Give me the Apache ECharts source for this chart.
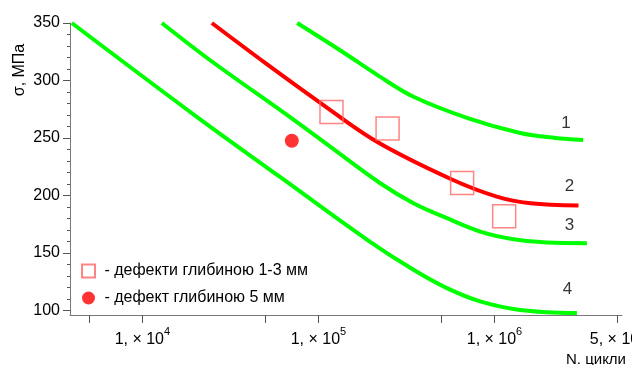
<!DOCTYPE html>
<html>
<head>
<meta charset="utf-8">
<script src="https://cdn.jsdelivr.net/npm/echarts@6/dist/echarts.min.js"></script>
<style>
  html, body { margin: 0; padding: 0; background: #fff; }
  #chart { width: 632px; height: 365px; }
</style>
</head>
<body>
<div id="chart"></div>
<script>
// криві втоми 1-4 (N, цикли / σ, МПа)
var curve1N = [75700, 132700, 224400, 346700, 711000, 1400000, 2210000, 3190000];
var curve1S = [350, 326.3, 303.1, 285.8, 267, 254.3, 250, 248.2];
var curve2N = [24800, 49800, 102400, 215000, 565000, 1030000, 1600000, 3000000];
var curve2S = [350, 315.3, 280.6, 246.7, 214.3, 199, 193.2, 191.3];
var curve3N = [12900, 24270, 69000, 124500, 224400, 346700, 536500, 830000, 1282000, 1986000, 3350000];
var curve3S = [350, 317.6, 268.1, 239.2, 210.6, 193.2, 180.2, 168.6, 161.9, 159, 158.5];
var curve4N = [3972, 20370, 60500, 189200, 346700, 536500, 830000, 1282000, 1986000, 2940000];
var curve4S = [350, 268.4, 216.1, 161.4, 135.3, 119.4, 107.8, 101.2, 98.3, 97.7];

// дефекти
var defectN = [118600, 247000, 655000, 1135000];
var defectS = [272.5, 258.3, 210.9, 182];
var deepN = [70600];
var deepS = [247.6];

// номери кривих
var curveNames = ['1', '2', '3', '4'];
var curveLabelN = [2550000, 2670000, 2670000, 2600000];
var curveLabelS = [262.9, 207.6, 173.8, 118.6];

// осі
var yLabels = [100, 150, 200, 250, 300, 350];
var yMinor = [110, 120, 130, 140, 160, 170, 180, 190, 210, 220, 230, 240, 260, 270, 280, 290, 310, 320, 330, 340];
var xTicks = [5000, 10000, 50000, 100000, 500000, 1000000, 5000000];
var xLabels = [10000, 100000, 1000000, 5000000];

var font = 'Liberation Sans, Arial, sans-serif';

function pairs(xs, ys) {
  return xs.map(function (x, i) { return [x, ys[i]]; });
}

function curve(xs, ys, color) {
  return {
    type: 'line',
    data: pairs(xs, ys),
    smooth: 0.35,
    symbol: 'none',
    lineStyle: { color: color, width: 4 },
    silent: true,
    z: 2
  };
}

var chart = echarts.init(document.getElementById('chart'));
chart.setOption({
  animation: false,
  grid: { left: 70, right: 10, top: 23, bottom: 50, outerBoundsMode: 'none', containLabel: false },
  xAxis: {
    type: 'log',
    logBase: 10,
    min: 3880,
    max: 5300000,
    splitLine: { show: false },
    axisLine: { lineStyle: { color: '#777', width: 1 } },
    axisTick: { customValues: xTicks, length: 8, lineStyle: { color: '#555' } },
    axisLabel: {
      customValues: xLabels,
      margin: 11,
      formatter: function (v) {
        var e = Math.floor(Math.log10(v) + 1e-9);
        var m = Math.round(v / Math.pow(10, e));
        return '{a|' + m + ', × 10}{s|' + e + '}';
      },
      rich: {
        a: { fontSize: 16, fontFamily: font, color: '#000', verticalAlign: 'bottom', lineHeight: 22 },
        s: { fontSize: 11, fontFamily: font, color: '#000', verticalAlign: 'top', lineHeight: 22 }
      }
    }
  },
  yAxis: [{
    type: 'value',
    min: 96,
    max: 350,
    splitLine: { show: false },
    axisLine: { show: true, lineStyle: { color: '#777', width: 1 } },
    axisTick: { show: true, customValues: yLabels, length: 7, lineStyle: { color: '#555' } },
    axisLabel: { customValues: yLabels, margin: 10, fontSize: 16, fontFamily: font, color: '#000' }
  }, {
    type: 'value',
    position: 'left',
    min: 96,
    max: 350,
    splitLine: { show: false },
    axisLine: { show: false },
    axisTick: { show: true, customValues: yMinor, length: 3, lineStyle: { color: '#555' } },
    axisLabel: { show: false }
  }],
  legend: {
    left: 81,
    top: 263,
    orient: 'vertical',
    padding: 0,
    itemGap: 11,
    itemWidth: 13,
    itemHeight: 13,
    data: ['- дефекти глибиною 1-3 мм', '- дефект глибиною 5 мм'],
    formatter: function (n) { return ' ' + n; },
    textStyle: { fontSize: 16, fontFamily: font, color: '#000' },
    selectedMode: false
  },
  graphic: [{
    type: 'text',
    x: 20,
    y: 70,
    rotation: Math.PI / 2,
    style: { text: 'σ, МПа', font: '16px ' + font, fill: '#000', align: 'center', verticalAlign: 'middle' }
  }, {
    type: 'text',
    x: 596,
    y: 352,
    style: { text: 'N. цикли', font: '15px ' + font, fill: '#000', align: 'center', verticalAlign: 'top' }
  }],
  series: [
    curve(curve1N, curve1S, '#00ff00'),
    curve(curve3N, curve3S, '#00ff00'),
    curve(curve4N, curve4S, '#00ff00'),
    curve(curve2N, curve2S, '#ff0000'),
    {
      name: '- дефекти глибиною 1-3 мм',
      type: 'scatter',
      data: pairs(defectN, defectS),
      symbol: 'rect',
      symbolSize: 23,
      itemStyle: { color: 'rgba(255,255,255,0)', borderColor: '#ff6666', borderWidth: 1.5 },
      z: 3
    },
    {
      name: '- дефект глибиною 5 мм',
      type: 'scatter',
      data: pairs(deepN, deepS),
      symbol: 'circle',
      symbolSize: 14,
      itemStyle: { color: '#ff0000' },
      z: 3
    },
    {
      name: 'номери',
      type: 'scatter',
      data: curveLabelN.map(function (n, i) { return { name: curveNames[i], value: [n, curveLabelS[i]] }; }),
      symbolSize: 0,
      silent: true,
      label: {
        show: true,
        position: 'inside',
        formatter: '{b}',
        fontSize: 17,
        fontFamily: font,
        color: '#000'
      },
      z: 4
    }
  ]
});
</script>
</body>
</html>
